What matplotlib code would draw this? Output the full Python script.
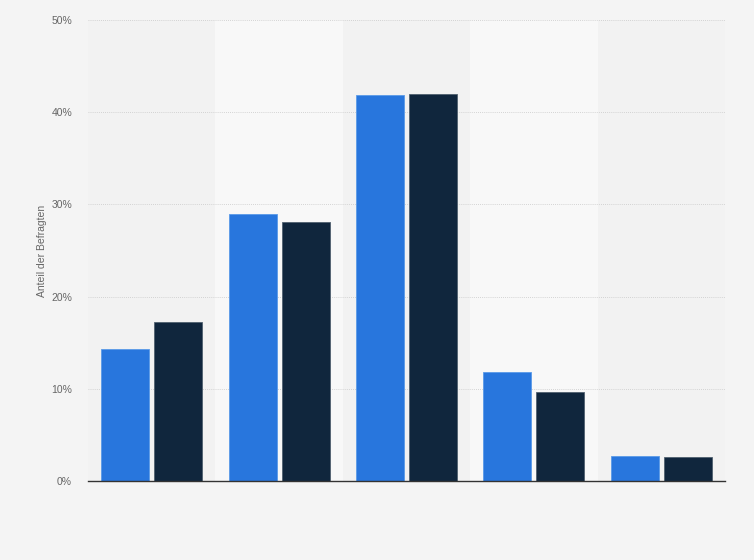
import matplotlib
matplotlib.use("Agg")
import matplotlib.pyplot as plt
import numpy as np

plt.rcParams["font.family"] = ["Liberation Sans", "DejaVu Sans"]

categories = ["1", "2", "3", "4", "5"]
series_a = [14.3, 29.0, 41.9, 11.8, 2.7]
series_b = [17.2, 28.1, 42.0, 9.7, 2.6]
yticks = [0, 10, 20, 30, 40, 50]
ytick_labels = ["0%", "10%", "20%", "30%", "40%", "50%"]

fig = plt.figure(figsize=(7.54, 5.6), dpi=100)
fig.patch.set_facecolor("#f4f4f4")
ax = fig.add_axes([88/754, 79/560, (725-88)/754, (481-20)/560])
ax.set_facecolor("#f2f2f2")

x = np.arange(len(categories))
for i in x:
    if i % 2 == 1:
        ax.axvspan(i - 0.5, i + 0.5, color="#f8f8f8", zorder=0, lw=0)

w = 0.377
off = 0.208
ax.bar(x - off, series_a, width=w, color="#2876dd", edgecolor="#5a9ae8", linewidth=0.6, zorder=3)
ax.bar(x + off, series_b, width=w, color="#10263d", edgecolor="#50606f", linewidth=0.6, zorder=3)

ax.set_xlim(-0.5, len(categories) - 0.5)
ax.set_ylim(0, 50)
ax.set_yticks(yticks)
ax.set_yticklabels(ytick_labels, fontsize=7.5, color="#666666")
ax.set_xticks([])
ax.tick_params(axis="y", length=0, pad=11.5)
ax.yaxis.grid(True, linestyle=(0, (1, 1.5)), color="#c8c8c8", linewidth=0.6, zorder=1)
ax.set_axisbelow(True)
for s in ["top", "right", "left"]:
    ax.spines[s].set_visible(False)
ax.spines["bottom"].set_color("#333333")
ax.spines["bottom"].set_linewidth(1.0)
ax.spines["bottom"].set_zorder(4)

ax.set_ylabel("Anteil der Befragten", fontsize=7.5, color="#666666")
ax.yaxis.set_label_coords((47 - 88) / (725 - 88), 0.5)

fig.savefig("out.png", dpi=100, facecolor=fig.get_facecolor())
